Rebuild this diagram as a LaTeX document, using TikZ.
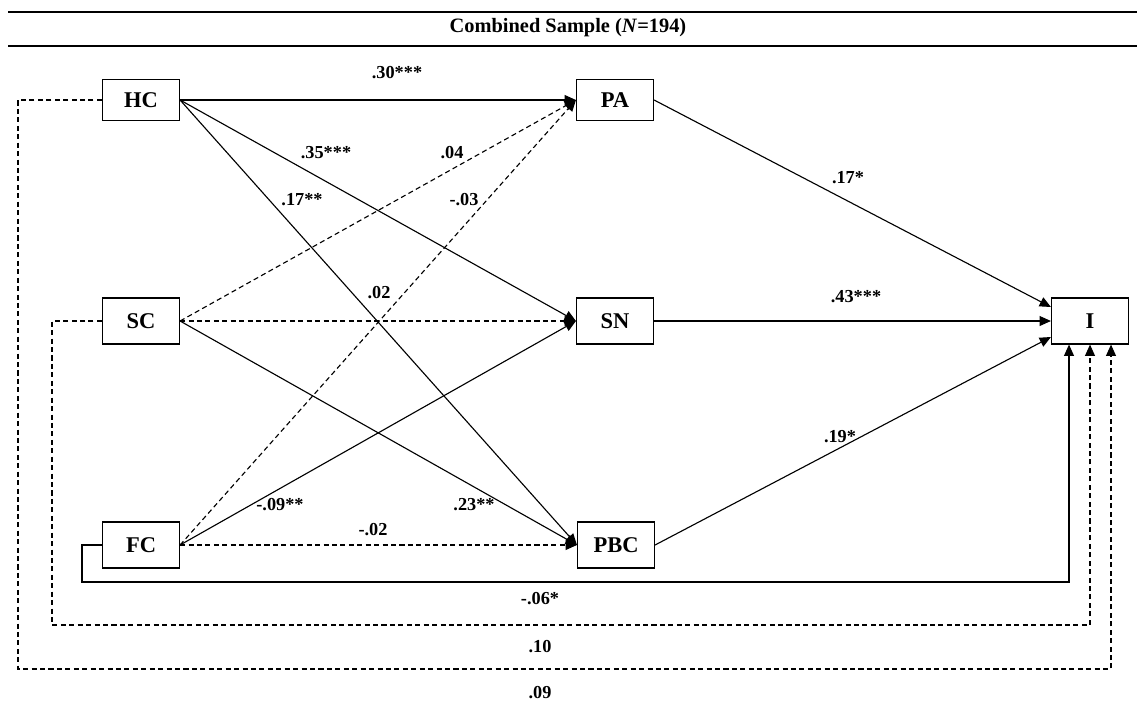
\documentclass[tikz,border=0pt]{standalone}
\usepackage{fontspec}
\setmainfont{Liberation Serif}
\usetikzlibrary{calc,arrows.meta}

\begin{document}
\begin{tikzpicture}[x=0.025cm, y=-0.025cm,
        var/.style={draw, line width=0.8pt, inner sep=0pt, minimum width=1.925cm,
            minimum height=1.15cm, font=\fontsize{16}{18}\selectfont\bfseries},
        coef/.style={font=\fontsize{13}{15}\selectfont\bfseries},
        eff/.style={line width=0.8pt, -{Triangle[length=8pt,width=7pt]}},
        nseff/.style={eff, dash pattern=on 3.6pt off 2.4pt}]
            \useasboundingbox (0,0) rectangle (1137,704);

            % title between the two rules
            \draw [line width=1.8pt] (8,12) -- (1137,12);
            \draw [line width=1.8pt] (8,46) -- (1137,46);
            \node [font=\fontsize{14.5}{16}\selectfont\bfseries] (title) at (568,28) {Combined Sample (\textit{N}=194)};

            \node [var, minimum height=1.025cm] (HC) at (141,100) {HC};
            \node [var, minimum height=1.025cm] (PA) at (615,100) {PA};
            \node [var] (SC) at (141,321) {SC};
            \node [var] (SN) at (615,321) {SN};
            \node [var] (FC) at (141,545) {FC};
            \node [var] (PBC) at (616,545) {PBC};
            \node [var] (I) at (1090,321) {I};

            \draw [eff] (HC.east) -- (PA.west);
            \draw [eff] (HC.east) -- (SN.west);
            \draw [eff] (HC.east) -- (PBC.west);
            \draw [nseff] (SC.east) -- (PA.west);
            \draw [nseff] (SC.east) -- (SN.west);
            \draw [eff] (SC.east) -- (PBC.west);
            \draw [nseff] (FC.east) -- (PA.west);
            \draw [eff] (FC.east) -- (SN.west);
            \draw [nseff] (FC.east) -- (PBC.west);

            \draw [eff] (PA.east) -- ($(I.west)+(0,-14)$);
            \draw [eff] (SN.east) -- (I.west);
            \draw [eff] (PBC.east) -- ($(I.west)+(0,16)$);

            % direct paths to I, round the outside
            \draw [eff] (FC.west) -| (82,582) -| ($(I.south)+(-21,0)$);
            \draw [nseff] (SC.west) -| (52,625) -| (I.south);
            \draw [nseff] (HC.west) -| (18,669) -| ($(I.south)+(21,0)$);

            \node [coef] (cHCPA) at (397,73) {.30***};
            \node [coef] (cHCSN) at (326,153) {.35***};
            \node [coef] (cHCPBC) at (302,200) {.17**};
            \node [coef] (cSCPA) at (452,153) {.04};
            \node [coef] (cFCPA) at (464,200) {-.03};
            \node [coef] (cSCSN) at (379,293) {.02};
            \node [coef] (cFCSN) at (280,505) {-.09**};
            \node [coef] (cSCPBC) at (474,505) {.23**};
            \node [coef] (cFCPBC) at (373,530) {-.02};
            \node [coef] (cPAI) at (848,178) {.17*};
            \node [coef] (cSNI) at (856,297) {.43***};
            \node [coef] (cPBCI) at (840,437) {.19*};
            \node [coef] (cFCI) at (540,599) {-.06*};
            \node [coef] (cSCI) at (540,647) {.10};
            \node [coef] (cHCI) at (540,693) {.09};
        \end{tikzpicture}
\end{document}
